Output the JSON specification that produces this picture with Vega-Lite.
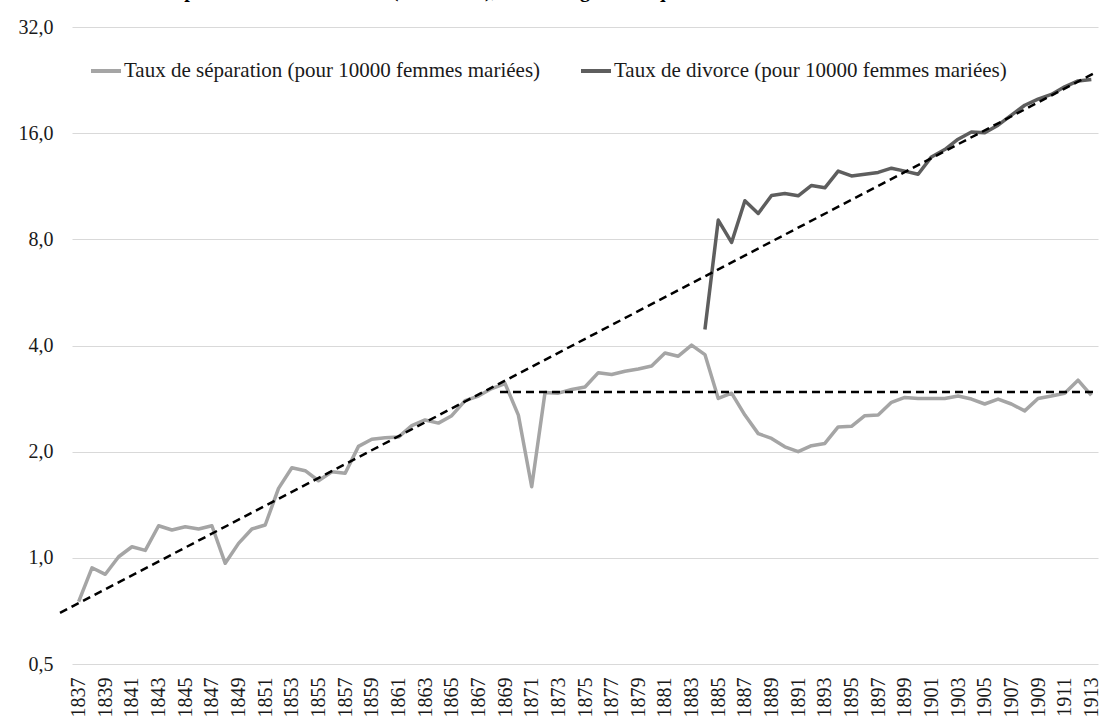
{
  "$schema": "https://vega.github.io/schema/vega-lite/v6.json",
  "autosize": {"type": "none"},
  "width": 1026,
  "height": 637,
  "padding": {"left": 72, "top": 27, "right": 3, "bottom": 53},
  "background": "white",
  "title": {
    "text": "Taux de séparations et de divorces (1837-1913), échelle logarithmique",
    "font": "Liberation Serif",
    "fontSize": 20,
    "fontWeight": "bold",
    "color": "#000000",
    "frame": "group",
    "anchor": "start",
    "dx": 23,
    "baseline": "alphabetic",
    "offset": 0
  },
  "config": {
    "view": {"stroke": null},
    "font": "Liberation Serif",
    "axis": {"labelOverlap": false, "labelFont": "Liberation Serif"}
  },
  "datasets": {
    "series": [
      {"annee": 1837, "serie": "Taux de séparation (pour 10000 femmes mariées)", "taux": 0.751},
      {"annee": 1838, "serie": "Taux de séparation (pour 10000 femmes mariées)", "taux": 0.937},
      {"annee": 1839, "serie": "Taux de séparation (pour 10000 femmes mariées)", "taux": 0.898},
      {"annee": 1840, "serie": "Taux de séparation (pour 10000 femmes mariées)", "taux": 1.007},
      {"annee": 1841, "serie": "Taux de séparation (pour 10000 femmes mariées)", "taux": 1.075},
      {"annee": 1842, "serie": "Taux de séparation (pour 10000 femmes mariées)", "taux": 1.05},
      {"annee": 1843, "serie": "Taux de séparation (pour 10000 femmes mariées)", "taux": 1.233},
      {"annee": 1844, "serie": "Taux de séparation (pour 10000 femmes mariées)", "taux": 1.199},
      {"annee": 1845, "serie": "Taux de séparation (pour 10000 femmes mariées)", "taux": 1.225},
      {"annee": 1846, "serie": "Taux de séparation (pour 10000 femmes mariées)", "taux": 1.207},
      {"annee": 1847, "serie": "Taux de séparation (pour 10000 femmes mariées)", "taux": 1.233},
      {"annee": 1848, "serie": "Taux de séparation (pour 10000 femmes mariées)", "taux": 0.965},
      {"annee": 1849, "serie": "Taux de séparation (pour 10000 femmes mariées)", "taux": 1.099},
      {"annee": 1850, "serie": "Taux de séparation (pour 10000 femmes mariées)", "taux": 1.207},
      {"annee": 1851, "serie": "Taux de séparation (pour 10000 femmes mariées)", "taux": 1.239},
      {"annee": 1852, "serie": "Taux de séparation (pour 10000 femmes mariées)", "taux": 1.574},
      {"annee": 1853, "serie": "Taux de séparation (pour 10000 femmes mariées)", "taux": 1.80},
      {"annee": 1854, "serie": "Taux de séparation (pour 10000 femmes mariées)", "taux": 1.766},
      {"annee": 1855, "serie": "Taux de séparation (pour 10000 femmes mariées)", "taux": 1.654},
      {"annee": 1856, "serie": "Taux de séparation (pour 10000 femmes mariées)", "taux": 1.755},
      {"annee": 1857, "serie": "Taux de séparation (pour 10000 femmes mariées)", "taux": 1.736},
      {"annee": 1858, "serie": "Taux de séparation (pour 10000 femmes mariées)", "taux": 2.07},
      {"annee": 1859, "serie": "Taux de séparation (pour 10000 femmes mariées)", "taux": 2.17},
      {"annee": 1860, "serie": "Taux de séparation (pour 10000 femmes mariées)", "taux": 2.19},
      {"annee": 1861, "serie": "Taux de séparation (pour 10000 femmes mariées)", "taux": 2.20},
      {"annee": 1862, "serie": "Taux de séparation (pour 10000 femmes mariées)", "taux": 2.37},
      {"annee": 1863, "serie": "Taux de séparation (pour 10000 femmes mariées)", "taux": 2.46},
      {"annee": 1864, "serie": "Taux de séparation (pour 10000 femmes mariées)", "taux": 2.41},
      {"annee": 1865, "serie": "Taux de séparation (pour 10000 femmes mariées)", "taux": 2.53},
      {"annee": 1866, "serie": "Taux de séparation (pour 10000 femmes mariées)", "taux": 2.79},
      {"annee": 1867, "serie": "Taux de séparation (pour 10000 femmes mariées)", "taux": 2.876},
      {"annee": 1868, "serie": "Taux de séparation (pour 10000 femmes mariées)", "taux": 3.02},
      {"annee": 1869, "serie": "Taux de séparation (pour 10000 femmes mariées)", "taux": 3.12},
      {"annee": 1870, "serie": "Taux de séparation (pour 10000 femmes mariées)", "taux": 2.54},
      {"annee": 1871, "serie": "Taux de séparation (pour 10000 femmes mariées)", "taux": 1.59},
      {"annee": 1872, "serie": "Taux de séparation (pour 10000 femmes mariées)", "taux": 2.945},
      {"annee": 1873, "serie": "Taux de séparation (pour 10000 femmes mariées)", "taux": 2.93},
      {"annee": 1874, "serie": "Taux de séparation (pour 10000 femmes mariées)", "taux": 3.00},
      {"annee": 1875, "serie": "Taux de séparation (pour 10000 femmes mariées)", "taux": 3.05},
      {"annee": 1876, "serie": "Taux de séparation (pour 10000 femmes mariées)", "taux": 3.35},
      {"annee": 1877, "serie": "Taux de séparation (pour 10000 femmes mariées)", "taux": 3.31},
      {"annee": 1878, "serie": "Taux de séparation (pour 10000 femmes mariées)", "taux": 3.38},
      {"annee": 1879, "serie": "Taux de séparation (pour 10000 femmes mariées)", "taux": 3.43},
      {"annee": 1880, "serie": "Taux de séparation (pour 10000 femmes mariées)", "taux": 3.50},
      {"annee": 1881, "serie": "Taux de séparation (pour 10000 femmes mariées)", "taux": 3.81},
      {"annee": 1882, "serie": "Taux de séparation (pour 10000 femmes mariées)", "taux": 3.73},
      {"annee": 1883, "serie": "Taux de séparation (pour 10000 femmes mariées)", "taux": 4.01},
      {"annee": 1884, "serie": "Taux de séparation (pour 10000 femmes mariées)", "taux": 3.77},
      {"annee": 1885, "serie": "Taux de séparation (pour 10000 femmes mariées)", "taux": 2.83},
      {"annee": 1886, "serie": "Taux de séparation (pour 10000 femmes mariées)", "taux": 2.93},
      {"annee": 1887, "serie": "Taux de séparation (pour 10000 femmes mariées)", "taux": 2.54},
      {"annee": 1888, "serie": "Taux de séparation (pour 10000 femmes mariées)", "taux": 2.25},
      {"annee": 1889, "serie": "Taux de séparation (pour 10000 femmes mariées)", "taux": 2.18},
      {"annee": 1890, "serie": "Taux de séparation (pour 10000 femmes mariées)", "taux": 2.065},
      {"annee": 1891, "serie": "Taux de séparation (pour 10000 femmes mariées)", "taux": 2.0},
      {"annee": 1892, "serie": "Taux de séparation (pour 10000 femmes mariées)", "taux": 2.08},
      {"annee": 1893, "serie": "Taux de séparation (pour 10000 femmes mariées)", "taux": 2.11},
      {"annee": 1894, "serie": "Taux de séparation (pour 10000 femmes mariées)", "taux": 2.35},
      {"annee": 1895, "serie": "Taux de séparation (pour 10000 femmes mariées)", "taux": 2.36},
      {"annee": 1896, "serie": "Taux de séparation (pour 10000 femmes mariées)", "taux": 2.53},
      {"annee": 1897, "serie": "Taux de séparation (pour 10000 femmes mariées)", "taux": 2.54},
      {"annee": 1898, "serie": "Taux de séparation (pour 10000 femmes mariées)", "taux": 2.76},
      {"annee": 1899, "serie": "Taux de séparation (pour 10000 femmes mariées)", "taux": 2.85},
      {"annee": 1900, "serie": "Taux de séparation (pour 10000 femmes mariées)", "taux": 2.83},
      {"annee": 1901, "serie": "Taux de séparation (pour 10000 femmes mariées)", "taux": 2.83},
      {"annee": 1902, "serie": "Taux de séparation (pour 10000 femmes mariées)", "taux": 2.83},
      {"annee": 1903, "serie": "Taux de séparation (pour 10000 femmes mariées)", "taux": 2.875},
      {"annee": 1904, "serie": "Taux de séparation (pour 10000 femmes mariées)", "taux": 2.82},
      {"annee": 1905, "serie": "Taux de séparation (pour 10000 femmes mariées)", "taux": 2.73},
      {"annee": 1906, "serie": "Taux de séparation (pour 10000 femmes mariées)", "taux": 2.82},
      {"annee": 1907, "serie": "Taux de séparation (pour 10000 femmes mariées)", "taux": 2.73},
      {"annee": 1908, "serie": "Taux de séparation (pour 10000 femmes mariées)", "taux": 2.61},
      {"annee": 1909, "serie": "Taux de séparation (pour 10000 femmes mariées)", "taux": 2.83},
      {"annee": 1910, "serie": "Taux de séparation (pour 10000 femmes mariées)", "taux": 2.875},
      {"annee": 1911, "serie": "Taux de séparation (pour 10000 femmes mariées)", "taux": 2.93},
      {"annee": 1912, "serie": "Taux de séparation (pour 10000 femmes mariées)", "taux": 3.19},
      {"annee": 1913, "serie": "Taux de séparation (pour 10000 femmes mariées)", "taux": 2.89},
      {"annee": 1884, "serie": "Taux de divorce (pour 10000 femmes mariées)", "taux": 4.44},
      {"annee": 1885, "serie": "Taux de divorce (pour 10000 femmes mariées)", "taux": 9.07},
      {"annee": 1886, "serie": "Taux de divorce (pour 10000 femmes mariées)", "taux": 7.84},
      {"annee": 1887, "serie": "Taux de divorce (pour 10000 femmes mariées)", "taux": 10.29},
      {"annee": 1888, "serie": "Taux de divorce (pour 10000 femmes mariées)", "taux": 9.47},
      {"annee": 1889, "serie": "Taux de divorce (pour 10000 femmes mariées)", "taux": 10.65},
      {"annee": 1890, "serie": "Taux de divorce (pour 10000 femmes mariées)", "taux": 10.79},
      {"annee": 1891, "serie": "Taux de divorce (pour 10000 femmes mariées)", "taux": 10.63},
      {"annee": 1892, "serie": "Taux de divorce (pour 10000 femmes mariées)", "taux": 11.37},
      {"annee": 1893, "serie": "Taux de divorce (pour 10000 femmes mariées)", "taux": 11.2},
      {"annee": 1894, "serie": "Taux de divorce (pour 10000 femmes mariées)", "taux": 12.49},
      {"annee": 1895, "serie": "Taux de divorce (pour 10000 femmes mariées)", "taux": 12.1},
      {"annee": 1896, "serie": "Taux de divorce (pour 10000 femmes mariées)", "taux": 12.24},
      {"annee": 1897, "serie": "Taux de divorce (pour 10000 femmes mariées)", "taux": 12.38},
      {"annee": 1898, "serie": "Taux de divorce (pour 10000 femmes mariées)", "taux": 12.73},
      {"annee": 1899, "serie": "Taux de divorce (pour 10000 femmes mariées)", "taux": 12.49},
      {"annee": 1900, "serie": "Taux de divorce (pour 10000 femmes mariées)", "taux": 12.24},
      {"annee": 1901, "serie": "Taux de divorce (pour 10000 femmes mariées)", "taux": 13.7},
      {"annee": 1902, "serie": "Taux de divorce (pour 10000 femmes mariées)", "taux": 14.38},
      {"annee": 1903, "serie": "Taux de divorce (pour 10000 femmes mariées)", "taux": 15.38},
      {"annee": 1904, "serie": "Taux de divorce (pour 10000 femmes mariées)", "taux": 16.13},
      {"annee": 1905, "serie": "Taux de divorce (pour 10000 femmes mariées)", "taux": 16.05},
      {"annee": 1906, "serie": "Taux de divorce (pour 10000 femmes mariées)", "taux": 16.86},
      {"annee": 1907, "serie": "Taux de divorce (pour 10000 femmes mariées)", "taux": 17.99},
      {"annee": 1908, "serie": "Taux de divorce (pour 10000 femmes mariées)", "taux": 19.2},
      {"annee": 1909, "serie": "Taux de divorce (pour 10000 femmes mariées)", "taux": 19.98},
      {"annee": 1910, "serie": "Taux de divorce (pour 10000 femmes mariées)", "taux": 20.6},
      {"annee": 1911, "serie": "Taux de divorce (pour 10000 femmes mariées)", "taux": 21.65},
      {"annee": 1912, "serie": "Taux de divorce (pour 10000 femmes mariées)", "taux": 22.5},
      {"annee": 1913, "serie": "Taux de divorce (pour 10000 femmes mariées)", "taux": 22.7}
    ],
    "tendances": [
      {"annee": 1835.6, "ligne": "exponentielle", "valeur": 0.698},
      {"annee": 1913.15, "ligne": "exponentielle", "valeur": 23.6},
      {"annee": 1868.62, "ligne": "constante", "valeur": 2.955},
      {"annee": 1913.5, "ligne": "constante", "valeur": 2.955}
    ]
  },
  "layer": [
    {
      "data": {"name": "series"},
      "mark": {"type": "line", "strokeWidth": 3.5, "strokeJoin": "round"},
      "encoding": {
        "x": {
          "field": "annee",
          "type": "quantitative",
          "scale": {"domain": [1836.5, 1913.5], "nice": false, "zero": false},
          "axis": {
            "title": null,
            "values": [1837, 1839, 1841, 1843, 1845, 1847, 1849, 1851, 1853, 1855, 1857, 1859, 1861, 1863, 1865, 1867, 1869, 1871, 1873, 1875, 1877, 1879, 1881, 1883, 1885, 1887, 1889, 1891, 1893, 1895, 1897, 1899, 1901, 1903, 1905, 1907, 1909, 1911, 1913],
            "tickCount": 39,
            "format": "d",
            "labelAngle": 270,
            "labelAlign": "right",
            "labelBaseline": "middle",
            "labelFont": "Liberation Serif",
            "labelFontSize": 20,
            "labelColor": "#1a1a1a",
            "labelPadding": 13,
            "labelOverlap": false,
            "labelSeparation": 0,
            "labelFlush": false,
            "ticks": false,
            "domain": false,
            "grid": false
          }
        },
        "y": {
          "field": "taux",
          "type": "quantitative",
          "scale": {"type": "log", "base": 2, "domain": [0.5, 32], "nice": false},
          "axis": {
            "title": null,
            "values": [0.5, 1, 2, 4, 8, 16, 32],
            "labelExpr": "replace(format(datum.value, '.1f'), '.', ',')",
            "labelFont": "Liberation Serif",
            "labelFontSize": 20,
            "labelColor": "#1a1a1a",
            "labelPadding": 19,
            "ticks": false,
            "domain": false,
            "grid": true,
            "gridColor": "#d9d9d9",
            "gridWidth": 1.2
          }
        },
        "color": {
          "field": "serie",
          "type": "nominal",
          "scale": {
            "domain": ["Taux de séparation (pour 10000 femmes mariées)", "Taux de divorce (pour 10000 femmes mariées)"],
            "range": ["#a5a5a5", "#5e5e5e"]
          },
          "legend": {
            "title": null,
            "orient": "none",
            "legendX": 17,
            "legendY": 27,
            "direction": "horizontal",
            "symbolType": "stroke",
            "symbolSize": 900,
            "symbolStrokeWidth": 4,
            "labelFont": "Liberation Serif",
            "labelFontSize": 21,
            "labelColor": "#1a1a1a",
            "labelOffset": 1,
            "columnPadding": 32,
            "labelLimit": 600
          }
        }
      }
    },
    {
      "data": {"name": "tendances"},
      "mark": {"type": "line", "color": "#000000", "strokeWidth": 2.5, "strokeDash": [8, 5], "clip": false},
      "encoding": {
        "x": {"field": "annee", "type": "quantitative"},
        "y": {"field": "valeur", "type": "quantitative"},
        "detail": {"field": "ligne", "type": "nominal"}
      }
    }
  ]
}
